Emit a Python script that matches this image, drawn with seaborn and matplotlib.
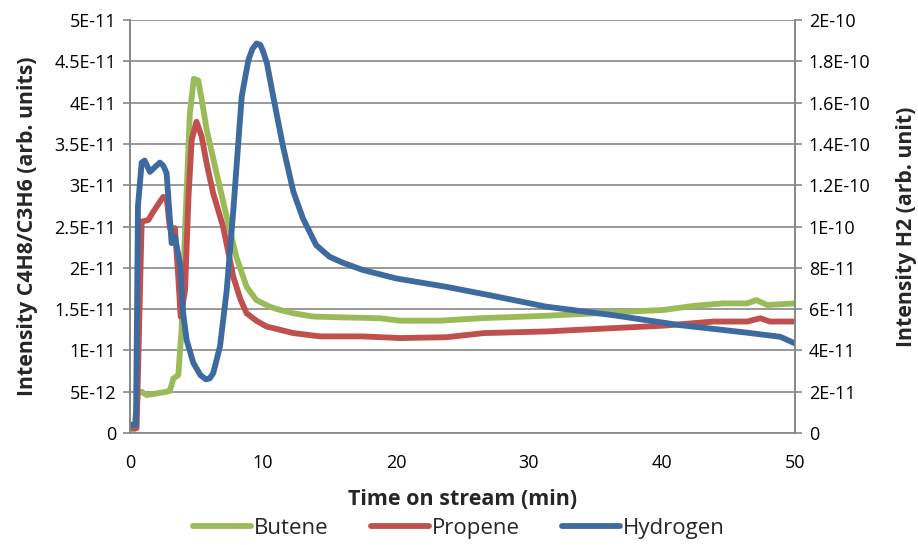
import pandas as pd
import seaborn as sns
import matplotlib.pyplot as plt

# values
t_butene = [0.0, 0.3, 0.6, 0.88, 1.25, 2.0, 2.76, 3.0, 3.26, 3.63, 3.88, 4.14, 4.5, 4.8, 5.13,
            5.4, 5.77, 6.52, 7.27, 8.0, 8.77, 9.5, 10.5, 11.28, 12.3, 13.8, 16.0, 18.8, 20.3,
            23.3, 26.3, 31.3, 36.3, 40.1, 42.4, 44.6, 46.4, 47.1, 47.9, 50.0]
butene = [0.0, 0.4, 4.8, 5.0, 4.6, 4.8, 5.0, 5.1, 6.6, 7.0, 12.5, 24.6, 38.7, 42.9, 42.7,
          40.3, 36.7, 31.4, 26.2, 21.3, 17.7, 16.1, 15.3, 14.9, 14.5, 14.1, 14.0, 13.9, 13.6,
          13.6, 13.9, 14.2, 14.6, 14.9, 15.4, 15.7, 15.7, 16.1, 15.5, 15.7]

t_propene = [0.0, 0.5, 0.88, 1.38, 1.75, 2.5, 2.76, 3.0, 3.38, 3.63, 3.81, 4.14, 4.4, 4.64,
             5.0, 5.39, 5.77, 6.26, 7.0, 7.77, 8.3, 8.77, 9.5, 10.26, 11.28, 12.28, 14.3, 17.5,
             20.3, 23.8, 26.6, 31.3, 36.3, 40.1, 43.9, 46.4, 47.4, 48.1, 50.0]
propene = [0.6, 0.6, 25.6, 25.8, 26.8, 28.6, 28.4, 24.8, 24.8, 18.9, 14.1, 17.3, 28.6, 35.5,
           37.7, 35.9, 32.6, 29.0, 25.0, 18.9, 16.2, 14.5, 13.6, 12.9, 12.5, 12.1, 11.7, 11.7,
           11.5, 11.6, 12.1, 12.3, 12.7, 13.0, 13.5, 13.5, 13.9, 13.5, 13.5]

t_hydrogen = [0.0, 0.45, 0.6, 0.88, 1.1, 1.5, 1.9, 2.25, 2.5, 2.75, 3.13, 3.38, 3.76, 4.0, 4.26,
              4.76, 5.3, 5.71, 6.0, 6.26, 6.77, 7.27, 7.77, 8.4, 8.9, 9.2, 9.52, 9.8, 10.0, 10.3,
              10.77, 11.5, 12.28, 13.0, 14.0, 15.0, 16.0, 17.5, 20.0, 23.8, 27.0, 31.3, 36.3,
              41.3, 46.4, 48.9, 50.0]
hydrogen = [0.4, 0.4, 11.0, 13.1, 13.2, 12.65, 12.9, 13.1, 12.95, 12.6, 9.2, 9.5, 8.2, 5.8, 4.5,
            3.4, 2.8, 2.6, 2.65, 2.9, 4.2, 6.9, 10.8, 16.3, 18.06, 18.6, 18.87, 18.8, 18.5, 17.9,
            16.3, 13.9, 11.7, 10.4, 9.1, 8.54, 8.25, 7.9, 7.49, 7.08, 6.68, 6.12, 5.71,
            5.23, 4.86, 4.66, 4.34]

left_ticks = [0, 5e-12, 1e-11, 1.5e-11, 2e-11, 2.5e-11, 3e-11, 3.5e-11, 4e-11, 4.5e-11, 5e-11]
left_labels = ['0', '5E-12', '1E-11', '1.5E-11', '2E-11', '2.5E-11', '3E-11', '3.5E-11',
               '4E-11', '4.5E-11', '5E-11']
right_ticks = [0, 2e-11, 4e-11, 6e-11, 8e-11, 1e-10, 1.2e-10, 1.4e-10, 1.6e-10, 1.8e-10, 2e-10]
right_labels = ['0', '2E-11', '4E-11', '6E-11', '8E-11', '1E-10', '1.2E-10', '1.4E-10',
                '1.6E-10', '1.8E-10', '2E-10']

df_b = pd.DataFrame({'t': t_butene, 'v': [v * 1e-12 for v in butene]})
df_p = pd.DataFrame({'t': t_propene, 'v': [v * 1e-12 for v in propene]})
df_h = pd.DataFrame({'t': t_hydrogen, 'v': [v * 1e-11 for v in hydrogen]})

sns.set_style('white')
plt.rcParams['font.family'] = ['Open Sans', 'DejaVu Sans']

fig, ax = plt.subplots(figsize=(9.18, 5.45), dpi=100)
fig.subplots_adjust(left=0.1416, right=0.866, top=0.963, bottom=0.2055)
ax2 = ax.twinx()

grey = '#878787'
lw = 4.2
sns.lineplot(data=df_b, x='t', y='v', ax=ax, color='#9BBB59', linewidth=lw, label='Butene', legend=False)
sns.lineplot(data=df_p, x='t', y='v', ax=ax, color='#C0504D', linewidth=lw, label='Propene', legend=False)
sns.lineplot(data=df_h, x='t', y='v', ax=ax2, color='#3D6BA0', linewidth=lw, label='Hydrogen', legend=False)

ax.set_xlim(0, 50)
ax.set_ylim(0, 5e-11)
ax2.set_ylim(0, 2e-10)
ax.set_xticks([0, 10, 20, 30, 40, 50])
ax.set_yticks(left_ticks)
ax.set_yticklabels(left_labels)
ax2.set_yticks(right_ticks)
ax2.set_yticklabels(right_labels)

ax.grid(axis='y', color=grey, linewidth=1.2)
ax.set_axisbelow(True)

for a in (ax, ax2):
    a.spines['top'].set_visible(False)
    for s in ('left', 'right', 'bottom'):
        a.spines[s].set_color(grey)
        a.spines[s].set_linewidth(1.2)
    a.tick_params(axis='both', direction='out', length=5, width=1.2, color=grey,
                  labelsize=13, labelcolor='black', pad=5)
ax.tick_params(axis='x', pad=10)
ax2.spines['bottom'].set_visible(False)

ax.set_xlabel('Time on stream (min)', fontsize=15.5, fontweight='bold', labelpad=12)
ax.set_ylabel('Intensity C4H8/C3H6 (arb. units)', fontsize=15.3, fontweight='bold', labelpad=12)
ax2.set_ylabel('Intensity H2 (arb. unit)', fontsize=15.3, fontweight='bold', labelpad=18)

h1, l1 = ax.get_legend_handles_labels()
h2, l2 = ax2.get_legend_handles_labels()
fig.legend(h1 + h2, l1 + l2, loc='center', bbox_to_anchor=(0.5, 0.03), ncol=3, frameon=False,
           fontsize=16, handlelength=2.6, handletextpad=0.15, columnspacing=1.9,
           borderpad=0.1)

fig.savefig('out.png', dpi=100)
